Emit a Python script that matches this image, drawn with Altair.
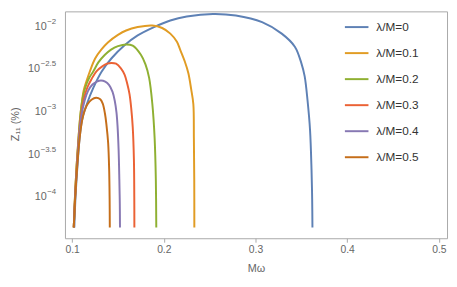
import altair as alt
import pandas as pd

labels = ["λ/M=0", "λ/M=0.1", "λ/M=0.2", "λ/M=0.3", "λ/M=0.4", "λ/M=0.5"]
colors = ["#5E81B5", "#E19C24", "#8FB032", "#EB6235", "#8778B3", "#C56E1A"]

# Mω values and log10(Z11) values
lam0_x = [0.1024, 0.1037, 0.1059, 0.1085, 0.1112, 0.1161, 0.1232, 0.1321, 0.1428, 0.1572, 0.1715, 0.1893, 0.2071,
          0.2250, 0.2536, 0.2786, 0.3072, 0.3286, 0.3429, 0.3500, 0.3536, 0.3568, 0.3595, 0.3611, 0.3618, 0.3621]
lam0_y = [-4.353, -3.997, -3.617, -3.272, -3.076, -2.907, -2.716, -2.529, -2.374, -2.219, -2.104, -2.006, -1.929,
          -1.883, -1.853, -1.871, -1.948, -2.083, -2.236, -2.428, -2.581, -2.869, -3.214, -3.674, -4.020, -4.353]

lam1_x = [0.1018, 0.1031, 0.1050, 0.1072, 0.1093, 0.1125, 0.1157, 0.1190, 0.1251, 0.1318, 0.1393, 0.1500, 0.1589,
          0.1715, 0.1875, 0.1982, 0.2071, 0.2143, 0.2178, 0.2229, 0.2268, 0.2298, 0.2322, 0.2328, 0.2332, 0.2333]
lam1_y = [-4.353, -3.997, -3.617, -3.272, -3.007, -2.754, -2.639, -2.535, -2.374, -2.270, -2.184, -2.098, -2.046,
          -2.006, -1.988, -2.017, -2.083, -2.178, -2.270, -2.409, -2.547, -2.731, -2.907, -3.306, -3.789, -4.353]

lam2_x = [0.1018, 0.1031, 0.1050, 0.1072, 0.1093, 0.1125, 0.1157, 0.1190, 0.1232, 0.1286, 0.1358, 0.1425, 0.1500,
          0.1589, 0.1661, 0.1750, 0.1800, 0.1840, 0.1875, 0.1900, 0.1913, 0.1918]
lam2_y = [-4.353, -3.997, -3.617, -3.272, -3.007, -2.788, -2.673, -2.593, -2.524, -2.420, -2.331, -2.270, -2.230,
          -2.209, -2.224, -2.331, -2.443, -2.601, -2.907, -3.310, -3.789, -4.353]

lam3_x = [0.1018, 0.1032, 0.1052, 0.1075, 0.1099, 0.1131, 0.1168, 0.1211, 0.1265, 0.1329, 0.1382, 0.1430, 0.1479,
          0.1532, 0.1572, 0.1602, 0.1626, 0.1645, 0.1661, 0.1674, 0.1678, 0.1679]
lam3_y = [-4.353, -3.997, -3.617, -3.272, -3.018, -2.834, -2.708, -2.616, -2.524, -2.466, -2.435, -2.426, -2.435,
          -2.489, -2.562, -2.673, -2.792, -2.961, -3.176, -3.559, -3.997, -4.353]

lam4_x = [0.1018, 0.1033, 0.1055, 0.1078, 0.1104, 0.1136, 0.1174, 0.1222, 0.1270, 0.1315, 0.1361, 0.1404, 0.1441,
          0.1465, 0.1484, 0.1495, 0.1507, 0.1515, 0.1520, 0.1522]
lam4_y = [-4.353, -3.997, -3.617, -3.272, -3.030, -2.869, -2.754, -2.679, -2.644, -2.631, -2.644, -2.685, -2.765,
          -2.869, -3.007, -3.157, -3.444, -3.789, -4.077, -4.353]

lam5_x = [0.1018, 0.1034, 0.1057, 0.1082, 0.1109, 0.1136, 0.1168, 0.1211, 0.1261, 0.1307, 0.1334, 0.1358, 0.1375,
          0.1393, 0.1404, 0.1409, 0.1411]
lam5_y = [-4.353, -3.997, -3.617, -3.306, -3.099, -2.984, -2.909, -2.857, -2.833, -2.852, -2.903, -3.018, -3.157,
          -3.364, -3.674, -4.020, -4.353]

x_ticks = [0.1, 0.2, 0.3, 0.4, 0.5]
y_ticks = [-2.0, -2.5, -3.0, -3.5, -4.0]
y_exps = ["−2", "−2.5", "−3", "−3.5", "−4"]
y_long = [False, True, False, True, False]

series_x = [lam0_x, lam1_x, lam2_x, lam3_x, lam4_x, lam5_x]
series_y = [lam0_y, lam1_y, lam2_y, lam3_y, lam4_y, lam5_y]

rows = []
for lab, xs, ys in zip(labels, series_x, series_y):
    for i, (a, b) in enumerate(zip(xs, ys)):
        rows.append({"series": lab, "mw": a, "logz": b, "i": i})
df = pd.DataFrame(rows)

ydf = pd.DataFrame({"v": y_ticks, "exp": y_exps, "long": y_long})

FONT = "Liberation Sans"
GRAY = "#666666"
FRAME = "#a8a8a8"

x_scale = alt.Scale(domain=[0.0922, 0.5089], nice=False, zero=False)
y_scale = alt.Scale(domain=[-4.48, -1.822], nice=False, zero=False)

lines = alt.Chart(df).mark_line(strokeWidth=2, interpolate="catmull-rom", clip=True).encode(
    x=alt.X("mw:Q", scale=x_scale,
            axis=alt.Axis(values=x_ticks, format=".1f", title="Mω", grid=False, domain=False,
                          tickColor=FRAME, tickSize=4, labelColor=GRAY, labelFontSize=10.5,
                          labelFont=FONT, labelPadding=3, titleFont=FONT, titleFontSize=11,
                          titleFontWeight="normal", titleColor=GRAY, titlePadding=7)),
    y=alt.Y("logz:Q", scale=y_scale,
            axis=alt.Axis(values=y_ticks, labels=False, title=None, grid=False, domain=False,
                          tickColor=FRAME, tickSize=4)),
    color=alt.Color("series:N", scale=alt.Scale(domain=labels, range=colors),
                    legend=alt.Legend(title=None, orient="none", legendX=284, legendY=3,
                                      symbolType="stroke", symbolSize=576, symbolStrokeWidth=2,
                                      labelFontSize=12, labelColor="#333333", labelFont=FONT,
                                      labelOffset=7, rowPadding=7.5, padding=0)),
    order="i:Q",
)

exp_text = alt.Chart(ydf).mark_text(align="right", baseline="middle", dy=-5, fontSize=8,
                                    color=GRAY, font=FONT).encode(
    y=alt.Y("v:Q", scale=y_scale, axis=None),
    x=alt.value(-9),
    text="exp:N",
)

ten_short = alt.Chart(ydf).transform_filter("!datum.long").mark_text(
    align="right", baseline="middle", fontSize=11, color=GRAY, font=FONT).encode(
    y=alt.Y("v:Q", scale=y_scale, axis=None),
    x=alt.value(-18.5),
    text=alt.value("10"),
)

ten_long = alt.Chart(ydf).transform_filter("datum.long").mark_text(
    align="right", baseline="middle", fontSize=11, color=GRAY, font=FONT).encode(
    y=alt.Y("v:Q", scale=y_scale, axis=None),
    x=alt.value(-25.5),
    text=alt.value("10"),
)

y_title = alt.Chart(pd.DataFrame({"t": ["Z₁₁ (%)"]})).mark_text(
    angle=270, align="center", baseline="middle", fontSize=11, color=GRAY, font=FONT).encode(
    x=alt.value(-50),
    y=alt.value(115),
    text="t:N",
)

chart = alt.layer(lines, exp_text, ten_short, ten_long, y_title).properties(
    width=389, height=231,
    autosize=alt.AutoSizeParams(type="none"),
    padding={"left": 58, "top": 1, "right": 2, "bottom": 36},
).configure_view(stroke=FRAME, strokeWidth=1)

chart.save("out.html", embed_options={"renderer": "svg", "actions": False})
